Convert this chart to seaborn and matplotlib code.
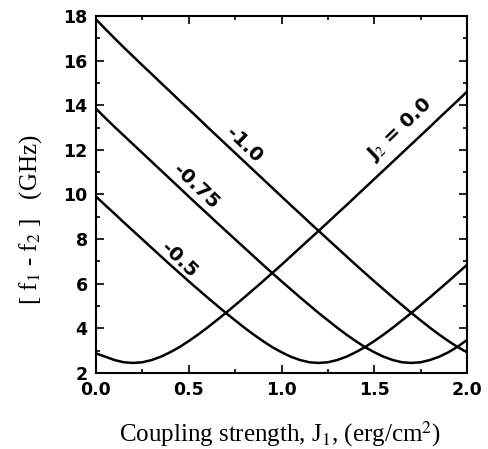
import matplotlib
matplotlib.use("Agg")
import matplotlib.pyplot as plt
import seaborn as sns
import pandas as pd
from matplotlib.ticker import MultipleLocator
from matplotlib.transforms import ScaledTranslation

# Coupling strength J1 (x), sampled every 0.05
j1 = [0.00, 0.05, 0.10, 0.15, 0.20, 0.25, 0.30, 0.35, 0.40, 0.45,
      0.50, 0.55, 0.60, 0.65, 0.70, 0.75, 0.80, 0.85, 0.90, 0.95,
      1.00, 1.05, 1.10, 1.15, 1.20, 1.25, 1.30, 1.35, 1.40, 1.45,
      1.50, 1.55, 1.60, 1.65, 1.70, 1.75, 1.80, 1.85, 1.90, 1.95, 2.00]

# f1 - f2 (GHz) for each J2 value
f_j2_0_00 = [2.88, 2.73, 2.58, 2.48, 2.45, 2.48, 2.58, 2.73, 2.93, 3.16,
             3.43, 3.72, 4.03, 4.36, 4.69, 5.04, 5.39, 5.75, 6.11, 6.48,
             6.85, 7.23, 7.61, 7.99, 8.37, 8.75, 9.14, 9.52, 9.91, 10.30,
             10.69, 11.08, 11.47, 11.86, 12.25, 12.64, 13.03, 13.43, 13.82, 14.21, 14.61]
f_j2_m0_50 = [9.91, 9.52, 9.14, 8.75, 8.37, 7.99, 7.61, 7.23, 6.85, 6.48,
              6.11, 5.75, 5.39, 5.04, 4.69, 4.36, 4.03, 3.72, 3.43, 3.16,
              2.93, 2.73, 2.58, 2.48, 2.45, 2.48, 2.58, 2.73, 2.93, 3.16,
              3.43, 3.72, 4.03, 4.36, 4.69, 5.04, 5.39, 5.75, 6.11, 6.48, 6.85]
f_j2_m0_75 = [13.85, 13.43, 13.03, 12.64, 12.25, 11.86, 11.47, 11.08, 10.69, 10.30,
              9.91, 9.52, 9.14, 8.75, 8.37, 7.99, 7.61, 7.23, 6.85, 6.48,
              6.11, 5.75, 5.39, 5.04, 4.69, 4.36, 4.03, 3.72, 3.43, 3.16,
              2.93, 2.73, 2.58, 2.48, 2.45, 2.48, 2.58, 2.73, 2.93, 3.18, 3.48]
f_j2_m1_00 = [17.85, 17.42, 17.00, 16.59, 16.19, 15.79, 15.40, 15.00, 14.61, 14.21,
              13.82, 13.43, 13.03, 12.64, 12.25, 11.86, 11.47, 11.08, 10.69, 10.30,
              9.91, 9.52, 9.14, 8.75, 8.37, 7.99, 7.61, 7.23, 6.85, 6.48,
              6.11, 5.75, 5.39, 5.04, 4.69, 4.36, 4.03, 3.72, 3.43, 3.16, 2.93]

series_names = ["0.0", "-0.5", "-0.75", "-1.0"]
series_values = [f_j2_0_00, f_j2_m0_50, f_j2_m0_75, f_j2_m1_00]
curve_labels = ["J$_2$ = 0.0", "-0.5", "-0.75", "-1.0"]

rows = []
for name, vals in zip(series_names, series_values):
    for x, y in zip(j1, vals):
        rows.append({"J1": x, "df": y, "J2": name})
df = pd.DataFrame(rows)

sns.set_style("ticks")
plt.rcParams.update({
    "mathtext.fontset": "stix",
    "text.color": "black",
    "axes.labelcolor": "black",
    "axes.edgecolor": "black",
    "xtick.color": "black",
    "ytick.color": "black",
})

fig = plt.figure(figsize=(4.88, 4.49), dpi=100)
ax = fig.add_axes([0.1967, 0.1693, 0.7603, 0.7951])

sns.lineplot(data=df, x="J1", y="df", hue="J2", palette=["black"] * 4,
             legend=False, linewidth=1.8, ax=ax, sort=False, estimator=None)

ax.set_xlim(0, 2.0)
ax.set_ylim(2, 18)
ax.xaxis.set_major_locator(MultipleLocator(0.5))
ax.xaxis.set_minor_locator(MultipleLocator(0.25))
ax.yaxis.set_major_locator(MultipleLocator(2))
ax.yaxis.set_minor_locator(MultipleLocator(1))
ax.tick_params(which="both", direction="in", top=True, right=True, width=1.2,
               color="black", labelcolor="black")
ax.tick_params(which="major", length=6)
ax.tick_params(which="minor", length=3)
ax.tick_params(axis="both", labelsize=12.5)
ax.tick_params(axis="x", pad=6)
ax.tick_params(axis="y", pad=6)
for lbl in ax.get_xticklabels() + ax.get_yticklabels():
    lbl.set_fontweight("bold")
for sp in ax.spines.values():
    sp.set_linewidth(1.5)
    sp.set_color("black")
    sp.set_visible(True)

# lift the bottom y tick label a little, as in the reference
fig.canvas.draw()
ylabs = ax.get_yticklabels()
ylabs[0].set_transform(ylabs[0].get_transform() + ScaledTranslation(0, 6 / 100, fig.dpi_scale_trans))

ax.set_xlabel("Coupling strength, J$_1$, (erg/cm$^2$)", family="Liberation Serif",
              fontsize=18, color="black")
ax.set_ylabel("[ f$_1$ - f$_2$ ]   (GHz)", family="Liberation Serif",
              fontsize=18, color="black")
ax.xaxis.set_label_coords(0.496, -0.13)
ax.yaxis.set_label_coords(-0.14, 0.43)

lab_kw = dict(fontsize=14, fontweight="bold", ha="center", va="center", color="black")
ax.text(0.80, 12.22, curve_labels[3], rotation=-44, **lab_kw)
ax.text(0.54, 10.34, curve_labels[2], rotation=-44, **lab_kw)
ax.text(0.45, 7.07, curve_labels[1], rotation=-44, **lab_kw)
ax.text(1.64, 12.9, curve_labels[0], rotation=44, **lab_kw)

fig.savefig("out.png", dpi=100)
